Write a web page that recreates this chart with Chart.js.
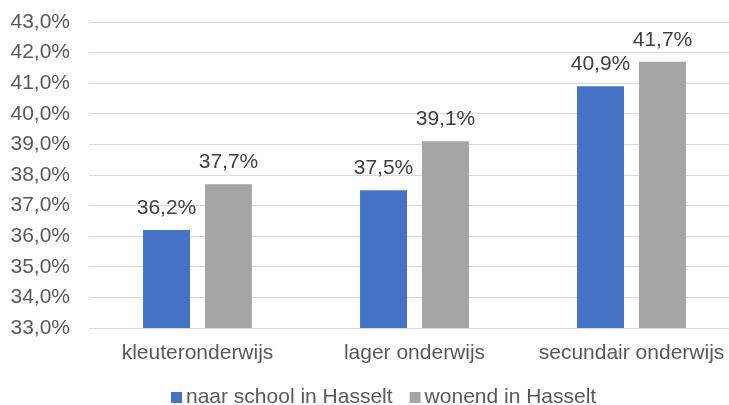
<!DOCTYPE html>
<html>
<head>
<meta charset="utf-8">
<script src="https://cdn.jsdelivr.net/npm/chart.js@4/dist/chart.umd.min.js"></script>
<style>
  html, body { margin: 0; padding: 0; background: #fff; }
  #wrap { width: 729px; height: 405px; }
</style>
</head>
<body>
<div id="wrap"><canvas id="chart" width="729" height="405"></canvas></div>
<script>
const categories = ['kleuteronderwijs', 'lager onderwijs', 'secundair onderwijs'];
const naarSchool = [36.2, 37.5, 40.9];
const wonend = [37.7, 39.1, 41.7];
const seriesNames = ['naar school in Hasselt', 'wonend in Hasselt'];
const colors = ['#4472C4', '#A5A5A5'];

const FONT = '"Liberation Sans", Arial, sans-serif';

function fmt(v) {
    return v.toFixed(1).replace('.', ',') + '%';
}

// value labels above the bars + legend row at the bottom
const extras = {
    id: 'extras',
    afterLayout(chart) {
        // plot area runs a bit past the right edge of the picture
        chart.chartArea.right = 740;
        chart.chartArea.width = 740 - chart.chartArea.left;
        const x = chart.scales.x;
        x.right = 740;
        x.width = 740 - x.left;
        x.configure();
    },
    afterDatasetsDraw(chart) {
        const ctx = chart.ctx;
        ctx.save();
        ctx.font = '21px ' + FONT;
        ctx.fillStyle = '#404040';
        ctx.textAlign = 'center';
        ctx.textBaseline = 'alphabetic';
        chart.data.datasets.forEach((ds, i) => {
            chart.getDatasetMeta(i).data.forEach((el, j) => {
                ctx.fillText(fmt(ds.data[j]), el.x, el.y - 16);
            });
        });
        ctx.restore();
    },
    afterDraw(chart) {
        const ctx = chart.ctx;
        ctx.save();
        ctx.font = '21px ' + FONT;
        ctx.textAlign = 'left';
        ctx.textBaseline = 'alphabetic';
        let x = 171;
        chart.data.datasets.forEach((ds, i) => {
            ctx.fillStyle = ds.backgroundColor;
            ctx.fillRect(x, 392, 11, 11);
            ctx.fillStyle = '#595959';
            ctx.fillText(ds.label, x + 15, 403);
            x += 15 + ctx.measureText(ds.label).width + 17;
        });
        ctx.restore();
    }
};

new Chart(document.getElementById('chart'), {
    type: 'bar',
    data: {
        labels: categories,
        datasets: [
            { label: seriesNames[0], data: naarSchool, backgroundColor: colors[0] },
            { label: seriesNames[1], data: wonend, backgroundColor: colors[1] }
        ]
    },
    options: {
        responsive: false,
        animation: false,
        layout: { padding: { top: 22, left: 0, right: 0, bottom: 0 } },
        datasets: { bar: { categoryPercentage: 0.571, barPercentage: 0.758 } },
        scales: {
            x: {
                grid: { display: false, drawTicks: false },
                border: { color: '#d9d9d9', width: 1 },
                ticks: { color: '#595959', font: { size: 21, family: FONT }, padding: 13 },
                afterFit(scale) {
                    scale.height = 77;
                    scale.paddingLeft = 0;
                    scale.paddingRight = 0;
                }
            },
            y: {
                min: 33, max: 43,
                border: { display: false },
                grid: { color: '#d9d9d9', drawTicks: false },
                ticks: {
                    stepSize: 1,
                    color: '#595959',
                    padding: 19,
                    font: { size: 21, family: FONT },
                    callback: v => fmt(v)
                },
                afterFit(scale) {
                    scale.width = 89;
                    scale.paddingTop = 0;
                    scale.paddingBottom = 0;
                }
            }
        },
        plugins: {
            tooltip: { enabled: false },
            legend: { display: false }
        }
    },
    plugins: [extras]
});
</script>
</body>
</html>
